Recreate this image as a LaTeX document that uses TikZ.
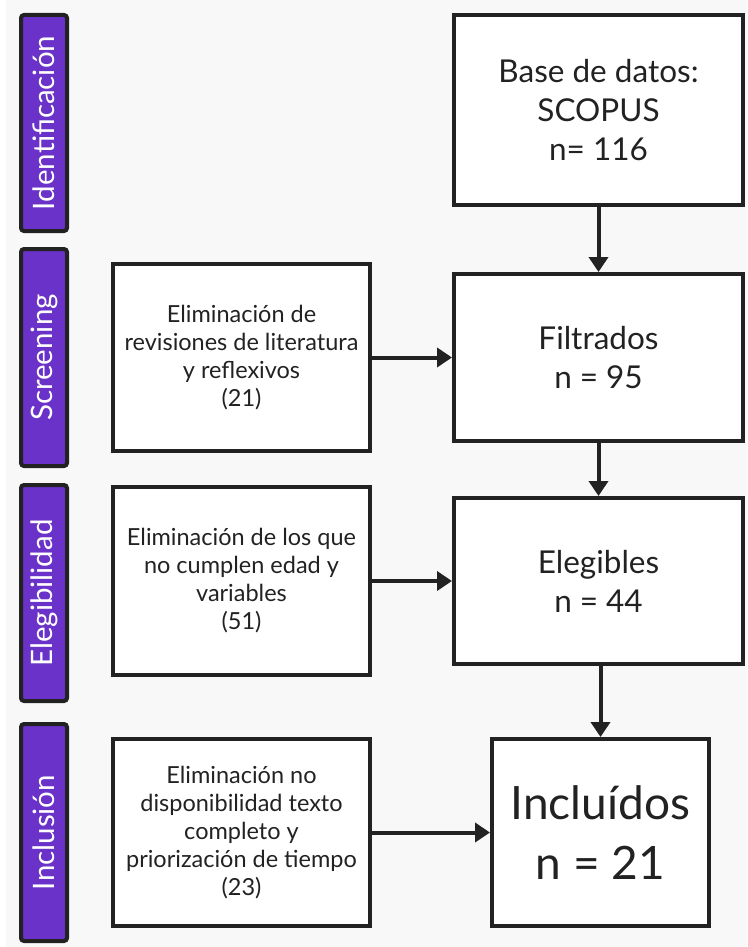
\documentclass[tikz,border=0pt]{standalone}
\usepackage{fontspec}
\setmainfont{Lato}
\usetikzlibrary{arrows.meta,calc}
\definecolor{bg}{HTML}{F8F8F8}
\definecolor{ink}{HTML}{222222}
\definecolor{purp}{RGB}{106,50,200}
\begin{document}
\begin{tikzpicture}[x=1pt,y=-1pt,
  box/.style={draw=ink,line width=4pt,fill=white,text=ink,align=center,inner sep=0pt},
  bigbox/.style={box,minimum width=289pt,font=\fontsize{31.5}{39}\selectfont},
  sidebox/.style={box,minimum width=257pt,font=\fontsize{23.5}{28}\selectfont},
  phase/.style={draw=ink,line width=4pt,fill=purp,text=white,rounded corners=3pt,
    inner sep=0pt,rotate=90,font=\fontsize{29.5}{32}\selectfont},
  arr/.style={draw=ink,line width=4pt,-{Triangle[length=15pt,width=19pt]}}]
\fill[bg] (0,0) rectangle (747,947);
\fill[white] (0,0) rectangle (6,947);
\useasboundingbox (0,0) rectangle (747,947);

% phase labels (rotated: minimum height acts along the horizontal)
\node[phase,minimum width=216pt,minimum height=46pt] (p1) at (44,123) {Identificación};
\node[phase,minimum width=217pt,minimum height=46pt] (p2) at (44,357.5) {Screening};
\node[phase,minimum width=216pt,minimum height=46pt] (p3) at (44,593) {Elegibilidad};
\node[phase,minimum width=217pt,minimum height=46pt] (p4) at (44,832.5) {Inclusión};

% main column
\node[bigbox,minimum height=190pt] (top) at (598.5,110) {Base de datos:\\SCOPUS\\n= 116};
\node[bigbox,minimum height=167pt] (filt) at (598.5,357.5) {Filtrados\\n = 95};
\node[bigbox,minimum height=166pt] (eleg) at (598.5,581) {Elegibles\\n = 44};
\node[box,minimum width=217pt,minimum height=187pt,font=\fontsize{46}{60}\selectfont] (incl) at (600.5,832.5) {Incluídos\\n = 21};

% side column
\node[sidebox,minimum height=187pt] (s1) at (241.5,357.5) {Eliminación de\\revisiones de literatura\\y reflexivos\\(21)};
\node[sidebox,minimum height=188pt] (s2) at (241.5,581) {Eliminación de los que\\no cumplen edad y\\variables\\(51)};
\node[sidebox,minimum height=187pt] (s3) at (241.5,832.5) {Eliminación no\\disponibilidad texto\\completo y\\priorización de tiempo\\(23)};

% connectors
\draw[arr] (top.south) -- (filt.north);
\draw[arr] (filt.south) -- (eleg.north);
\draw[arr] (eleg.south -| incl.north) -- (incl.north);
\draw[arr] (s1.east) -- (filt.west);
\draw[arr] (s2.east) -- (eleg.west);
\draw[arr] (s3.east) -- (incl.west);
\end{tikzpicture}
\end{document}
